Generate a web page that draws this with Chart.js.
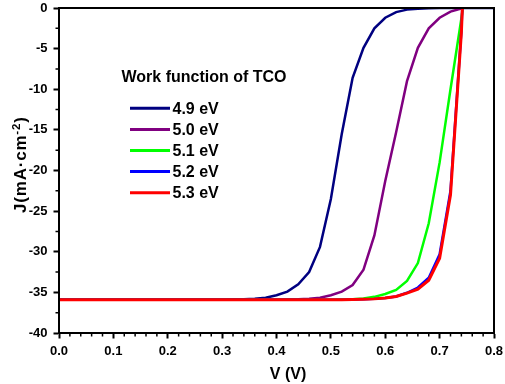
<!DOCTYPE html>
<html><head><meta charset="utf-8">
<script src="https://cdn.jsdelivr.net/npm/chart.js@4.4.1/dist/chart.umd.min.js"></script>
<style>html,body{margin:0;padding:0;background:#fff;}#wrap{width:505px;height:384px;}</style>
</head><body><div id="wrap"><canvas id="c" width="505" height="384"></canvas></div>
<script>
// ---- data (V in volts, J in mA/cm^2) ----
const voltage = [0.00,0.02,0.04,0.06,0.08,0.10,0.12,0.14,0.16,0.18,0.20,0.22,0.24,0.26,0.28,0.30,0.32,0.34,0.36,0.38,0.40,0.42,0.44,0.46,0.48,0.50,0.52,0.54,0.56,0.58,0.60,0.62,0.64,0.66,0.68,0.70,0.72,0.74,0.76,0.78,0.80];
const j49 = [-35.9,-35.9,-35.9,-35.9,-35.9,-35.9,-35.9,-35.9,-35.9,-35.9,-35.9,-35.9,-35.9,-35.9,-35.9,-35.9,-35.88,-35.85,-35.78,-35.65,-35.35,-34.9,-34.0,-32.5,-29.4,-23.5,-15.5,-8.6,-4.9,-2.5,-1.2,-0.5,-0.2,-0.08,-0.03,-0.01,0,0,0,0,0];
const j50 = [-35.9,-35.9,-35.9,-35.9,-35.9,-35.9,-35.9,-35.9,-35.9,-35.9,-35.9,-35.9,-35.9,-35.9,-35.9,-35.9,-35.9,-35.9,-35.9,-35.9,-35.9,-35.88,-35.85,-35.78,-35.65,-35.35,-34.9,-34.1,-32.2,-28.0,-21.3,-15.3,-9.0,-4.9,-2.5,-1.2,-0.45,-0.05,6,null,null];
const j51 = [-35.9,-35.9,-35.9,-35.9,-35.9,-35.9,-35.9,-35.9,-35.9,-35.9,-35.9,-35.9,-35.9,-35.9,-35.9,-35.9,-35.9,-35.9,-35.9,-35.9,-35.9,-35.9,-35.9,-35.9,-35.9,-35.9,-35.88,-35.85,-35.75,-35.55,-35.2,-34.7,-33.6,-31.4,-26.5,-19.0,-10.0,-1.3,8,null,null];
const j52 = [-35.9,-35.9,-35.9,-35.9,-35.9,-35.9,-35.9,-35.9,-35.9,-35.9,-35.9,-35.9,-35.9,-35.9,-35.9,-35.9,-35.9,-35.9,-35.9,-35.9,-35.9,-35.9,-35.9,-35.9,-35.9,-35.9,-35.9,-35.88,-35.85,-35.8,-35.7,-35.5,-35.05,-34.4,-33.2,-30.3,-22.5,-2.8,30,null,null];
const j53 = [-35.9,-35.9,-35.9,-35.9,-35.9,-35.9,-35.9,-35.9,-35.9,-35.9,-35.9,-35.9,-35.9,-35.9,-35.9,-35.9,-35.9,-35.9,-35.9,-35.9,-35.9,-35.9,-35.9,-35.9,-35.9,-35.9,-35.9,-35.88,-35.85,-35.8,-35.7,-35.5,-35.1,-34.6,-33.5,-30.8,-23.0,-3.0,30,null,null];
const seriesLabels = ['4.9 eV','5.0 eV','5.1 eV','5.2 eV','5.3 eV'];
const legendTitle = 'Work function of TCO';
const xTitle = 'V (V)';
const yTitleMain = 'J(mA·cm';
const yTitleSup = '-2';
const yTitleEnd = ')';

const colors = ['#000080','#800080','#00ff00','#0000ff','#ff0000'];
const FONT = '"Liberation Sans", Arial, sans-serif';

function pts(arr){ return voltage.map((v,i)=>({x:v,y:arr[i]})); }
const allSeries = [j49,j50,j51,j52,j53];

const extras = {
  id:'extras',
  afterDraw(chart){
    const {ctx, chartArea:a, scales:{x,y}} = chart;
    ctx.save();
    ctx.strokeStyle='#000';
    // minor ticks
    ctx.lineWidth=1.5;
    ctx.beginPath();
    for(let i=1;i<40;i++){ if(i%5===0) continue; const px=x.getPixelForValue(i*0.02); ctx.moveTo(px,a.bottom); ctx.lineTo(px,a.bottom+3.5); }
    for(let i=0;i<8;i++){ const py=y.getPixelForValue(-2.5-5*i); ctx.moveTo(a.left,py); ctx.lineTo(a.left-3.5,py); }
    ctx.stroke();
    // frame
    ctx.lineWidth=2;
    ctx.strokeRect(a.left,a.top,a.right-a.left,a.bottom-a.top);
    // legend
    ctx.fillStyle='#000';
    ctx.textBaseline='alphabetic';
    ctx.textAlign='left';
    ctx.font='bold 16px '+FONT;
    ctx.fillText(legendTitle,121.5,81.5);
    const ds = chart.data.datasets;
    for(let i=0;i<ds.length;i++){
      const ly = 108.3 + i*21.1;
      ctx.strokeStyle = ds[i].borderColor; ctx.lineWidth=3;
      ctx.beginPath(); ctx.moveTo(130,ly); ctx.lineTo(170,ly); ctx.stroke();
      ctx.fillText(ds[i].label,172.5,ly+5.2);
    }
    // x title
    ctx.textAlign='center';
    ctx.fillText(xTitle,288,378.5);
    // y title
    ctx.save();
    ctx.translate(26,213);
    ctx.rotate(-Math.PI/2);
    ctx.textAlign='left';
    ctx.letterSpacing='0.8px';
    ctx.font='bold 17px '+FONT;
    let w1 = ctx.measureText(yTitleMain).width;
    ctx.fillText(yTitleMain,0,0);
    ctx.font='bold 11.5px '+FONT;
    let w2 = ctx.measureText(yTitleSup).width;
    ctx.fillText(yTitleSup,w1,-6.5);
    ctx.font='bold 17px '+FONT;
    ctx.fillText(yTitleEnd,w1+w2,0);
    ctx.restore();
    ctx.restore();
  }
};

new Chart(document.getElementById('c'),{
  type:'line',
  data:{
    datasets: allSeries.map((s,i)=>({
      label: seriesLabels[i],
      data: pts(s),
      borderColor: colors[i],
      backgroundColor: colors[i],
      borderWidth: i===4 ? 3 : 2.5,
      pointRadius:0,
      tension:0,
      fill:false,
      order: 5-i
    }))
  },
  options:{
    responsive:false,
    animation:false,
    devicePixelRatio:1,
    layout:{padding:{top:8,right:11,left:0,bottom:0}},
    plugins:{legend:{display:false},tooltip:{enabled:false}},
    scales:{
      x:{type:'linear',min:0,max:0.8,
        afterFit(s){ s.height=51; s.paddingLeft=0; s.paddingRight=0; },
        ticks:{stepSize:0.1,padding:5,color:'#000',font:{family:FONT,size:13,weight:'bold'},
          callback:(v)=>Number(v).toFixed(1), maxRotation:0, autoSkip:false},
        grid:{display:true,drawOnChartArea:false,drawTicks:true,tickLength:5.5,tickWidth:2,tickColor:'#000'},
        border:{display:true,color:'#000',width:2}
      },
      y:{type:'linear',min:-40,max:0,
        afterFit(s){ s.width=59; s.paddingTop=0; s.paddingBottom=0; },
        ticks:{stepSize:5,padding:6,color:'#000',font:{family:FONT,size:13,weight:'bold'},
          callback:(v)=>String(v)},
        grid:{display:true,drawOnChartArea:false,drawTicks:true,tickLength:5.5,tickWidth:2,tickColor:'#000'},
        border:{display:true,color:'#000',width:2}
      }
    }
  },
  plugins:[extras]
});
</script></body></html>
